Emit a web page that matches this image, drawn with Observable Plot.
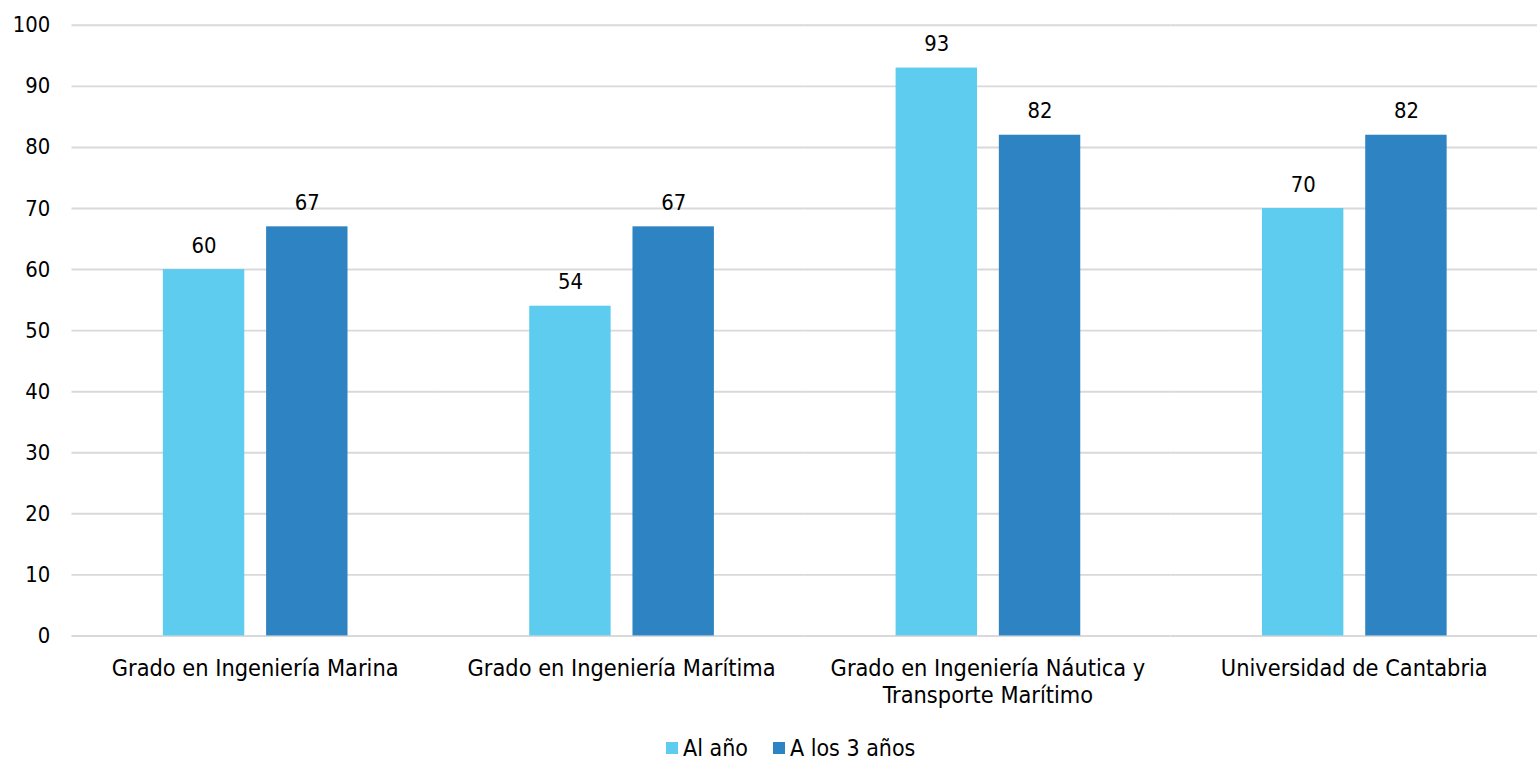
<!DOCTYPE html>
<html>
<head>
<meta charset="utf-8">
<script src="https://cdn.jsdelivr.net/npm/d3@7"></script>
<script src="https://cdn.jsdelivr.net/npm/@observablehq/plot@0.6"></script>
<style>
  html, body { margin: 0; padding: 0; background: #fff; }
  body { position: relative; width: 1537px; height: 758px; overflow: hidden; font-family: "DejaVu Sans Condensed", "DejaVu Sans", sans-serif; }
  #chart { position: absolute; left: 0; top: 0; }
  #legend { position: absolute; left: 666px; top: 735px; display: flex; gap: 25px; font-size: 23px; line-height: 26px; color: #000; white-space: nowrap; }
  #legend .item { display: flex; align-items: center; gap: 5px; }
  #legend .sw { width: 12px; height: 12px; display: inline-block; }
</style>
</head>
<body>
<div id="chart"></div>
<div id="legend"></div>
<script>
const categories = [
  "Grado en Ingeniería Marina",
  "Grado en Ingeniería Marítima",
  "Grado en Ingeniería Náutica y\nTransporte Marítimo",
  "Universidad de Cantabria"
];
const series = ["Al año", "A los 3 años"];
const valuesAlAno = [60, 54, 93, 70];
const valuesA3 = [67, 67, 82, 82];
const colors = ["#5ECCEF", "#2E83C3"];
const yTicks = [0, 10, 20, 30, 40, 50, 60, 70, 80, 90, 100];

const data = [];
categories.forEach((c, i) => {
  data.push({cat: c, s: series[0], v: valuesAlAno[i]});
  data.push({cat: c, s: series[1], v: valuesA3[i]});
});

const font = '"DejaVu Sans Condensed", "DejaVu Sans", sans-serif';

const chart = Plot.plot({
  width: 1548,
  height: 735,
  marginLeft: 72,
  marginRight: 0,
  marginTop: 25,
  marginBottom: 95,
  style: { fontFamily: font, fontSize: "22px", color: "#000", background: "#fff", overflow: "visible" },
  fx: { domain: categories, padding: 0, label: null },
  x: { domain: series, paddingInner: 0.214, paddingOuter: 0.869, axis: null },
  y: { domain: [0, 100], ticks: yTicks, label: null },
  color: { domain: series, range: colors },
  marks: [
    Plot.gridY(yTicks, { facetAnchor: null, stroke: "#d9d9d9", strokeOpacity: 1, strokeWidth: 2 }),
    Plot.axisY(yTicks, { tickSize: 0, tickPadding: 22, fontSize: 22, label: null, fill: "#000" }),
    Plot.axisFx({ anchor: "bottom", tickSize: 0, tickPadding: 21, fontSize: 23.5, lineHeight: 1.15, label: null, fill: "#000" }),
    Plot.barY(data, { fx: "cat", x: "s", y: "v", fill: "s" }),
    Plot.text(data, { fx: "cat", x: "s", y: "v", text: d => String(d.v), lineAnchor: "bottom", dy: -17, fontSize: 22, fill: "#000" })
  ]
});
document.getElementById("chart").appendChild(chart);

const legend = document.getElementById("legend");
series.forEach((s, i) => {
  const item = document.createElement("div");
  item.className = "item";
  const sw = document.createElement("span");
  sw.className = "sw";
  sw.style.background = colors[i];
  const t = document.createElement("span");
  t.textContent = s;
  item.appendChild(sw);
  item.appendChild(t);
  legend.appendChild(item);
});
</script>
</body>
</html>
